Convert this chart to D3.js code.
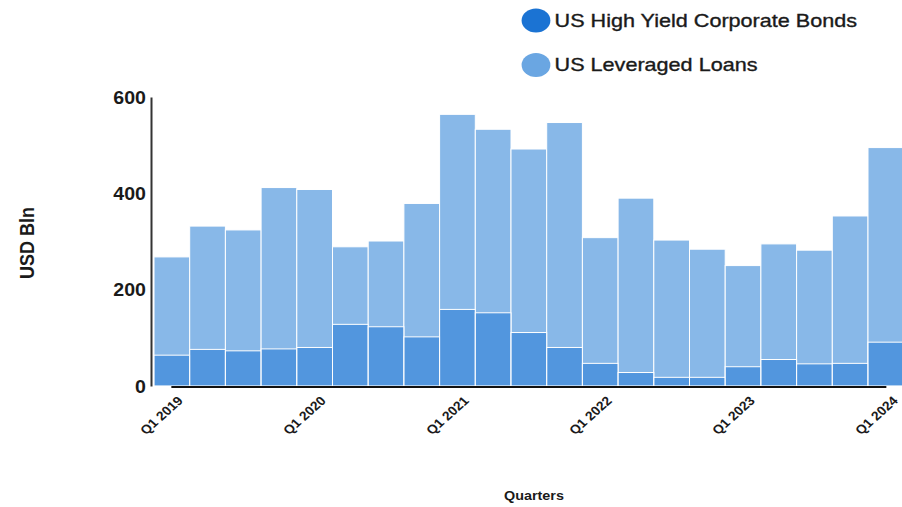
<!DOCTYPE html>
<html>
<head>
<meta charset="utf-8">
<script src="https://cdn.jsdelivr.net/npm/d3@7"></script>
<style>
  html, body { margin: 0; padding: 0; background: #fff; }
  svg { display: block; font-family: "Liberation Sans", Arial, sans-serif; }
</style>
</head>
<body>
<svg id="chart" width="902" height="507"></svg>
<script>
// quarterly issuance, USD bln
const quarters = [
  'Q1 2019', 'Q2 2019', 'Q3 2019', 'Q4 2019',
  'Q1 2020', 'Q2 2020', 'Q3 2020', 'Q4 2020',
  'Q1 2021', 'Q2 2021', 'Q3 2021', 'Q4 2021',
  'Q1 2022', 'Q2 2022', 'Q3 2022', 'Q4 2022',
  'Q1 2023', 'Q2 2023', 'Q3 2023', 'Q4 2023',
  'Q1 2024'
];
const leveragedLoans = [268, 332, 324, 412, 408, 289, 301, 379, 564, 533, 492, 547, 308, 390, 303, 284, 250, 295, 282, 353, 495];
const highYield = [64, 76, 73, 77, 80, 128, 123, 102, 159, 152, 111, 80, 47, 28, 18, 18, 40, 55, 46, 47, 91];
const yTicks = [0, 200, 400, 600];
const xTickLabels = ['Q1 2019', 'Q1 2020', 'Q1 2021', 'Q1 2022', 'Q1 2023', 'Q1 2024'];
const seriesNames = ['US High Yield Corporate Bonds', 'US Leveraged Loans'];

const hyColor = '#1b73d3', loanColor = '#6aa6e2';
const SX = 1.2; // the reference text is a little wide

const svg = d3.select('#chart');

const step = 35.7, x0 = 154;
const x = d3.scaleBand().domain(quarters).range([x0, x0 + step * quarters.length]).padding(0);
const xp = d3.scalePoint().domain(quarters).range([x0 + step / 2 - 1, x0 + step * (quarters.length - 0.5)]);
const y = d3.scaleLinear().domain([0, 600]).range([386, 97]);

// bars: loans behind, HY over it
const bars = svg.append('g');
bars.selectAll('rect.loan').data(leveragedLoans).join('rect')
  .attr('class', 'loan')
  .attr('x', (d, i) => x(quarters[i])).attr('width', x.bandwidth())
  .attr('y', d => y(d)).attr('height', d => y(0) - y(d))
  .attr('fill', loanColor).attr('fill-opacity', 0.8)
  .attr('stroke', '#fff').attr('stroke-width', 1);
bars.selectAll('rect.hy').data(highYield).join('rect')
  .attr('class', 'hy')
  .attr('x', (d, i) => x(quarters[i])).attr('width', x.bandwidth())
  .attr('y', d => y(d)).attr('height', d => y(0) - y(d))
  .attr('fill', hyColor).attr('fill-opacity', 0.5)
  .attr('stroke', '#fff').attr('stroke-width', 1);

// y axis
const yAxis = svg.append('g').attr('transform', 'translate(151,0)')
  .call(d3.axisLeft(y).tickValues(yTicks).tickSize(0).tickPadding(0));
yAxis.select('.domain').attr('stroke', '#333').attr('stroke-width', 2);
yAxis.selectAll('text')
  .attr('x', null).attr('dy', null)
  .attr('font-size', 17.5).attr('font-weight', 'bold')
  .attr('font-family', '"Liberation Sans", Arial, sans-serif')
  .attr('fill', '#1a1a1a').attr('text-anchor', 'end').attr('dominant-baseline', 'central')
  .attr('transform', `translate(-5,0) scale(1.12,1)`);

// x axis
const xAxis = svg.append('g').attr('transform', 'translate(0,386.5)')
  .call(d3.axisBottom(xp).tickValues(xTickLabels).tickSize(0).tickPadding(0));
xAxis.select('.domain').attr('stroke', '#111').attr('stroke-width', 2);
xAxis.selectAll('text')
  .attr('y', null).attr('dy', null)
  .attr('font-size', 12.5).attr('font-weight', 'bold')
  .attr('font-family', '"Liberation Sans", Arial, sans-serif')
  .attr('fill', '#1a1a1a').attr('text-anchor', 'end')
  .attr('transform', `translate(12.5,15) scale(1.12,1) rotate(-45)`);

// axis titles
svg.append('text')
  .attr('transform', `translate(534,500) scale(1.15,1)`)
  .attr('text-anchor', 'middle').attr('font-size', 12.5).attr('font-weight', 'bold')
  .attr('fill', '#1a1a1a')
  .text('Quarters');
svg.append('text')
  .attr('transform', `translate(34,243) scale(1.1,1) rotate(-90)`)
  .attr('text-anchor', 'middle').attr('font-size', 18).attr('font-weight', 'bold')
  .attr('fill', '#1a1a1a')
  .text('USD Bln');

// legend
const legend = svg.append('g');
[hyColor, loanColor].forEach((c, i) => {
  const g = legend.append('g').attr('transform', `translate(536,${20.5 + i * 44.5}) scale(${SX},1)`);
  g.append('circle').attr('r', 12).attr('fill', c);
  g.append('text').attr('x', 15.5).attr('y', 0).attr('dy', '0.35em')
    .attr('font-size', 18).attr('fill', '#1a1a1a').attr('stroke', '#1a1a1a').attr('stroke-width', 0.35)
    .text(seriesNames[i]);
});
</script>
</body>
</html>
